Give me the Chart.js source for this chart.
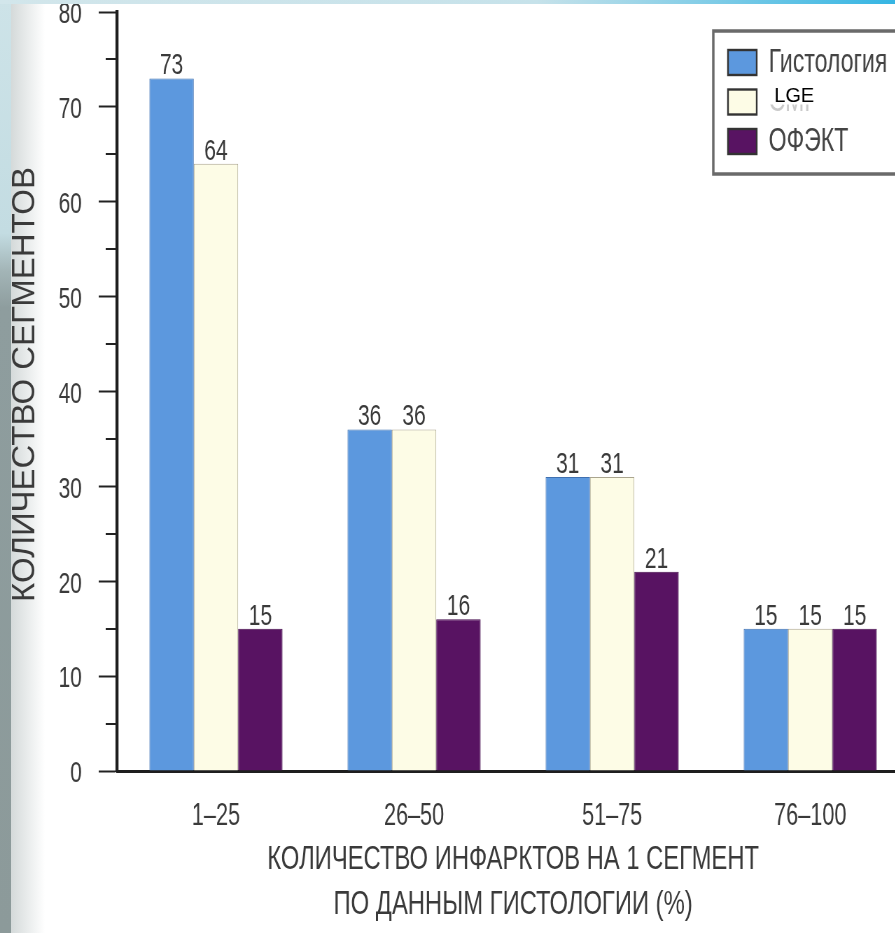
<!DOCTYPE html>
<html lang="ru">
<head>
<meta charset="utf-8">
<title>Количество сегментов</title>
<script src="https://cdn.jsdelivr.net/npm/chart.js@4.4.1/dist/chart.umd.min.js"></script>
<style>
  html, body { margin: 0; padding: 0; background: #fff; overflow: hidden; }
  body { width: 895px; height: 933px; position: relative; }
  /* slide frame: grey strip on the left, thin cyan band on top */
  #edge { position: absolute; left: 0; top: 0; width: 11px; height: 933px;
    background: linear-gradient(to bottom, #cde3e8 0%, #c3dce2 25%, #a3b5b7 29%, #8e9d9e 33%, #8c9a9a 100%); }
  #edgeShade { position: absolute; left: 11px; top: 0; width: 34px; height: 933px;
    background: linear-gradient(to right, rgba(160,172,172,0.45), rgba(255,255,255,0)); }
  #topband { position: absolute; left: 0; top: 0; width: 895px; height: 4px; z-index: 2;
    background: linear-gradient(to right, #d2e6eb 0%, #c6e2ea 60%, #35b5e3 100%); }
  /* the chart is laid out 1/0.7 wider and squeezed back, which gives the narrow lettering */
  #chart { position: absolute; left: 0; top: 0; z-index: 1; transform: scaleX(0.7); transform-origin: 0 0; }
</style>
</head>
<body>
<div id="edge"></div>
<div id="edgeShade"></div>
<div id="topband"></div>
<canvas id="chart" width="1303" height="933"></canvas>

<script>
const categories = ['1–25', '26–50', '51–75', '76–100'];
const seriesNames = ['Гистология', 'LGE', 'ОФЭКТ'];
const histology = [73, 36, 31, 15];
const lge = [64, 36, 31, 15];
const spect = [15, 16, 21, 15];

const xTitle = ['КОЛИЧЕСТВО ИНФАРКТОВ НА 1 СЕГМЕНТ', 'ПО ДАННЫМ ГИСТОЛОГИИ (%)'];
const yTitle = 'КОЛИЧЕСТВО СЕГМЕНТОВ';

const SQUEEZE = 0.7;   // must match the scaleX in the css
const SANS = "'Liberation Sans', Arial, sans-serif";
const TEXT = '#3a3a3a';
const AXIS = '#1e1e1e';

// short ticks between the labelled ones on the y axis
const minorTicks = {
    id: 'minorTicks',
    afterDraw(chart) {
        const y = chart.scales.y;
        const c = chart.ctx;
        const left = chart.chartArea.left;
        c.save();
        c.strokeStyle = '#222';
        c.lineWidth = 2;
        y.ticks.forEach(t => {
            if (t.value % 10 === 0) return;
            const py = Math.round(y.getPixelForValue(t.value));
            c.beginPath();
            c.moveTo(left - 16, py);
            c.lineTo(left, py);
            c.stroke();
        });
        c.restore();
    }
};

// y axis title, drawn unsqueezed so it keeps its normal width
const yAxisTitle = {
    id: 'yAxisTitle',
    afterDraw(chart) {
        const y = chart.scales.y;
        const c = chart.ctx;
        c.save();
        c.translate(25 / SQUEEZE, (y.top + y.bottom) / 2 - 7);
        c.scale(1 / SQUEEZE, 1);
        c.rotate(-Math.PI / 2);
        c.font = `33px ${SANS}`;
        c.fillStyle = '#3a3a3a';
        c.textAlign = 'center';
        c.textBaseline = 'middle';
        c.fillText(yTitle, 0, 0);
        c.restore();
    }
};

// value above each bar
const valueLabels = {
    id: 'valueLabels',
    afterDatasetsDraw(chart) {
        const c = chart.ctx;
        c.save();
        c.font = `30px ${SANS}`;
        c.fillStyle = TEXT;
        c.textAlign = 'center';
        c.textBaseline = 'alphabetic';
        chart.data.datasets.forEach((ds, i) => {
            chart.getDatasetMeta(i).data.forEach((bar, j) => {
                c.fillText(ds.data[j], bar.x, bar.y - 4);
            });
        });
        c.restore();
    }
};

// framed legend in the upper right corner
const boxLegend = {
    id: 'boxLegend',
    afterDraw(chart) {
        const c = chart.ctx;
        const x = 1019, y = 31;
        c.save();
        c.fillStyle = '#fff';
        c.fillRect(x, y, 320, 143);
        c.strokeStyle = '#6a6a6a';
        c.lineWidth = 3.5;
        c.strokeRect(x, y, 320, 143);

        chart.data.datasets.forEach((ds, i) => {
            const top = y + 19 + i * 39.5;
            c.fillStyle = ds.backgroundColor;
            c.fillRect(x + 21, top, 41, 25);
            c.strokeStyle = '#333';
            c.lineWidth = 2.4;
            c.strokeRect(x + 21, top, 41, 25);

            c.textBaseline = 'middle';
            if (i === 1) {
                // old caption shows faintly below the new one
                c.save();
                c.beginPath();
                c.rect(x + 70, top + 15, 140, 16);
                c.clip();
                c.font = `33px ${SANS}`;
                c.fillStyle = '#cacaca';
                c.fillText('СМР', x + 79, top + 12.5);
                c.restore();

                c.save();
                c.translate(x + 87, top + 7);
                c.scale(1 / SQUEEZE, 1);
                c.font = `20px ${SANS}`;
                c.fillStyle = '#000';
                c.fillText(ds.label, 0, 0);
                c.restore();
            } else {
                c.font = `33px ${SANS}`;
                c.fillStyle = '#444';
                c.fillText(ds.label, x + 79, top + 12.5);
            }
        });
        c.restore();
    }
};

new Chart(document.getElementById('chart'), {
    type: 'bar',
    data: {
        labels: categories,
        datasets: [
            { label: seriesNames[0], data: histology, backgroundColor: '#5c98de', borderColor: '#3f70b0', borderWidth: 1 },
            { label: seriesNames[1], data: lge, backgroundColor: '#fdfce6', borderColor: '#aaa58e', borderWidth: 1 },
            { label: seriesNames[2], data: spect, backgroundColor: '#581362', borderColor: '#440c4c', borderWidth: 1 }
        ]
    },
    options: {
        responsive: false,
        animation: false,
        devicePixelRatio: 1,
        layout: { padding: { left: 0, top: 12, right: 4, bottom: 0 } },
        datasets: { bar: { categoryPercentage: 0.672, barPercentage: 1 } },
        plugins: { legend: { display: false }, tooltip: { enabled: false } },
        scales: {
            x: {
                grid: { display: false, drawTicks: false },
                border: { display: true, color: AXIS, width: 3 },
                ticks: { color: TEXT, font: { family: SANS, size: 31 }, padding: 27 },
                title: {
                    display: true,
                    text: xTitle,
                    color: TEXT,
                    font: { family: SANS, size: 34, lineHeight: 1.32 },
                    padding: { top: 0, bottom: 6 }
                },
                afterFit(scale) { scale.height = 162; }
            },
            y: {
                min: 0,
                max: 80,
                ticks: {
                    stepSize: 5,
                    color: TEXT,
                    font: { family: SANS, size: 30 },
                    padding: 24,
                    labelOffset: 3,
                    callback: v => v % 10 === 0 ? v : ''
                },
                grid: {
                    drawOnChartArea: false,
                    tickLength: 26,
                    tickWidth: 2,
                    tickColor: c => (c.tick && c.tick.value % 10 === 0) ? '#222' : 'rgba(0,0,0,0)'
                },
                border: { display: true, color: AXIS, width: 4.3 },
                title: { display: false },
                afterFit(scale) {
                    scale.width = 167;
                    // the top label may run into the page margin
                    scale.paddingTop = 0;
                    scale.paddingBottom = 0;
                }
            }
        }
    },
    plugins: [minorTicks, valueLabels, yAxisTitle, boxLegend]
});
</script>
</body>
</html>
